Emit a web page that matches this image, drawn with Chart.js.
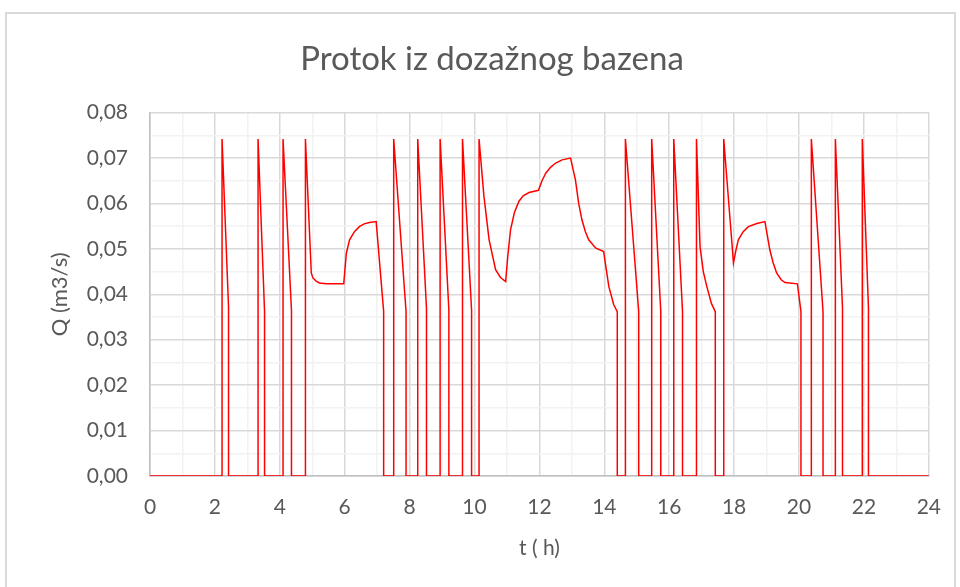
<!DOCTYPE html>
<html>
<head>
<meta charset="utf-8">
<script src="https://cdn.jsdelivr.net/npm/chart.js@4"></script>
<style>
  html, body { margin: 0; padding: 0; background: #fff; }
  #frame { position: absolute; left: 5px; top: 12px; width: 951px; height: 600px; border: 2px solid #d9d9d9; box-sizing: border-box; }
  #wrap { position: absolute; left: 0; top: 0; width: 960px; height: 587px; }
</style>
</head>
<body>
<div id="frame"></div>
<div id="wrap"><canvas id="c" width="960" height="587"></canvas></div>
<script>
// time (h)
const tHours = [
  0, 2.22, 2.22, 2.42, 2.42,
  3.33, 3.33, 3.53, 3.53,
  4.10, 4.10, 4.36, 4.36,
  4.79, 4.79, 4.97, 5.02, 5.12, 5.22, 5.43, 5.97,
  6.05, 6.15, 6.30, 6.45, 6.60, 6.76, 6.97,
  7.20, 7.20,
  7.51, 7.51, 7.89, 7.89,
  8.25, 8.25, 8.52, 8.52,
  8.94, 8.94, 9.21, 9.21,
  9.63, 9.63, 9.91, 9.91,
  10.14, 10.14, 10.29, 10.45, 10.65, 10.80, 10.96,
  11.02, 11.11, 11.23, 11.37, 11.50, 11.68, 11.97,
  12.08, 12.20, 12.35, 12.50, 12.70, 12.96,
  13.11, 13.21, 13.31, 13.42, 13.52, 13.73, 13.98,
  14.05, 14.14, 14.29, 14.40, 14.40,
  14.65, 14.65, 15.06, 15.06,
  15.46, 15.46, 15.74, 15.74,
  16.14, 16.14, 16.41, 16.41,
  16.84, 16.84, 16.95, 17.05, 17.16, 17.30, 17.42, 17.42,
  17.68, 17.68, 17.98, 18.05, 18.13, 18.28, 18.44, 18.70, 18.95,
  19.10, 19.20, 19.31, 19.45, 19.57, 19.95,
  20.06, 20.06,
  20.38, 20.38, 20.74, 20.74,
  21.12, 21.12, 21.34, 21.34,
  21.95, 21.95, 22.14, 22.14,
  24
];
// flow Q (m3/s)
const qFlow = [
  0, 0, 0.0742, 0.0372, 0,
  0, 0.0742, 0.0362, 0,
  0, 0.0742, 0.0364, 0,
  0, 0.0742, 0.0447, 0.0436, 0.0429, 0.0425, 0.0423, 0.0423,
  0.0490, 0.0520, 0.0538, 0.0549, 0.0555, 0.0558, 0.0560,
  0.0362, 0,
  0, 0.0742, 0.0362, 0,
  0, 0.0742, 0.0370, 0,
  0, 0.0742, 0.0365, 0,
  0, 0.0742, 0.0365, 0,
  0, 0.0742, 0.0616, 0.0520, 0.0454, 0.0437, 0.0428,
  0.0480, 0.0542, 0.0580, 0.0605, 0.0617, 0.0624, 0.0629,
  0.0650, 0.0667, 0.0680, 0.0689, 0.0696, 0.0700,
  0.0652, 0.0600, 0.0564, 0.0537, 0.0520, 0.0502, 0.0494,
  0.0460, 0.0417, 0.0377, 0.0362, 0,
  0, 0.0742, 0.0362, 0,
  0, 0.0742, 0.0362, 0,
  0, 0.0742, 0.0362, 0,
  0, 0.0742, 0.0505, 0.0450, 0.0417, 0.0380, 0.0362, 0,
  0, 0.0742, 0.0469, 0.0495, 0.0520, 0.0538, 0.0549, 0.0556, 0.0560,
  0.0498, 0.0470, 0.0447, 0.0432, 0.0426, 0.0423,
  0.0362, 0,
  0, 0.0742, 0.0362, 0,
  0, 0.0742, 0.0370, 0,
  0, 0.0742, 0.0370, 0,
  0
];
const xTickLabels = ['0','2','4','6','8','10','12','14','16','18','20','22','24'];
const yTickLabels = ['0,00','0,01','0,02','0,03','0,04','0,05','0,06','0,07','0,08'];

const points = tHours.map((t, i) => ({ x: t, y: qFlow[i] }));
const FONT = "Lato, 'Open Sans', sans-serif";
const MAJOR = '#d9d9d9', MINOR = '#f2f2f2';

new Chart(document.getElementById('c'), {
  type: 'scatter',
  data: { datasets: [{
    data: points, showLine: true, borderColor: '#ff0000', borderWidth: 1.5,
    pointRadius: 0, tension: 0, fill: false
  }]},
  options: {
    responsive: false, animation: false,
    layout: { padding: { left: 53, right: 29, top: 0, bottom: 0 } },
    plugins: {
      legend: { display: false }, tooltip: { enabled: false },
      title: { display: true, text: 'Protok iz dozažnog bazena', color: '#595959',
        font: { family: FONT, size: 33, weight: 'normal' }, padding: { top: 40, bottom: 33 } }
    },
    scales: {
      x: {
        type: 'linear', min: 0, max: 24,
        afterFit: s => { s.height = 111; },
        border: { display: true, color: '#bfbfbf', width: 1.5 },
        grid: { drawTicks: false, lineWidth: 1.5,
          color: c => (c.tick && Math.round(c.tick.value) % 2 === 0) ? MAJOR : MINOR },
        ticks: { stepSize: 1, autoSkip: false, maxRotation: 0, padding: 19, color: '#595959',
          font: { family: FONT, size: 21 },
          callback: v => { const r = Math.round(v); return (r % 2 === 0) ? xTickLabels[r / 2] : ''; } },
        title: { display: true, text: 't ( h)', color: '#595959', font: { family: FONT, size: 21 },
          padding: { top: 0, bottom: 26 } }
      },
      y: {
        type: 'linear', min: 0, max: 0.08,
        afterFit: s => { s.width = 97; },
        border: { display: true, color: '#bfbfbf', width: 1.5 },
        grid: { drawTicks: false, lineWidth: 1.5,
          color: c => (c.tick && Math.round(c.tick.value * 1000) % 10 === 0) ? MAJOR : MINOR },
        ticks: { stepSize: 0.005, autoSkip: false, padding: 22, color: '#595959',
          font: { family: FONT, size: 21 },
          callback: v => { const r = Math.round(v * 1000); return (r % 10 === 0) ? yTickLabels[r / 10] : ''; } },
        title: { display: true, text: 'Q (m3/s)', color: '#595959', font: { family: FONT, size: 22 },
          padding: { top: -6, bottom: 0 } }
      }
    }
  }
});
</script>
</body>
</html>
